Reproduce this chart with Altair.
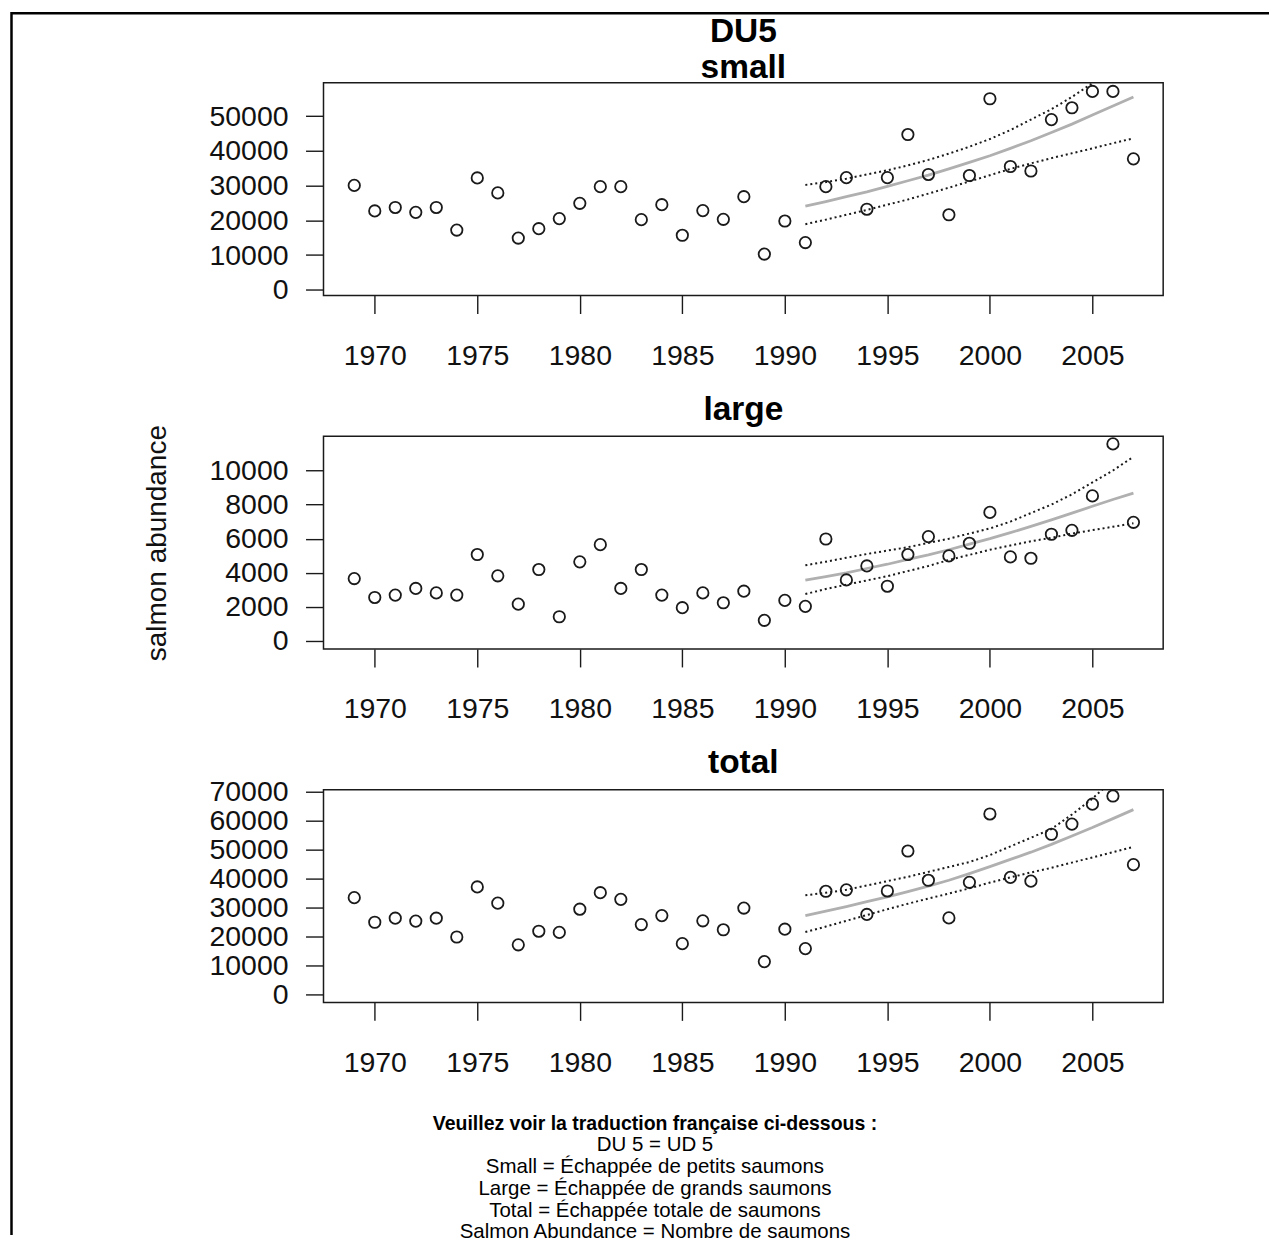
import altair as alt
import pandas as pd

# ---------------- data ----------------
years = list(range(1969, 2008))
small = [30060, 22700, 23700, 22300, 23700, 17200, 32200, 27900, 14900, 17600,
         20500, 24900, 29700, 29700, 20200, 24500, 15700, 22800, 20300, 26800,
         10300, 19800, 13600, 29700, 32300, 23200, 32300, 44700, 33200, 21600,
         32900, 55000, 35500, 34200, 49000, 52400, 57100, 57100, 37700]
large = [3660, 2550, 2690, 3080, 2820, 2690, 5070, 3820, 2160, 4190,
         1420, 4640, 5650, 3080, 4190, 2690, 1950, 2820, 2240, 2920,
         1210, 2380, 2030, 5980, 3580, 4400, 3210, 5070, 6120, 4990,
         5730, 7540, 4930, 4850, 6260, 6490, 8510, 11560, 6960]
total = [33300, 24800, 26200, 25200, 26200, 19700, 37000, 31400, 17000, 21700,
         21300, 29300, 35000, 32700, 24000, 27100, 17400, 25300, 22200, 29700,
         11200, 22400, 15700, 35500, 36000, 27500, 35600, 49400, 39300, 26300,
         38600, 62200, 40300, 39000, 55200, 58700, 65600, 68400, 44700]

fit_years = list(range(1991, 2008))
small_fit = [24100, 25400, 26800, 28200, 29800, 31400, 33000, 34800, 36700,
             38600, 40700, 42900, 45300, 47700, 50300, 52900, 55500]
small_hi = [30200, 31000, 32000, 33200, 34400, 35800, 37400, 39200, 41200,
            43400, 46000, 49000, 52000, 55500, 59500, 63500, 68000]
small_lo = [18900, 20200, 21600, 23000, 24500, 26000, 27700, 29400, 31200,
            33000, 34800, 36400, 37900, 39300, 40700, 42200, 43600]

large_fit = [3570, 3780, 4000, 4250, 4500, 4780, 5050, 5350, 5680,
             6000, 6350, 6720, 7100, 7500, 7900, 8300, 8670]
large_hi = [4440, 4650, 4880, 5100, 5300, 5500, 5750, 6000, 6300,
            6600, 7000, 7500, 8000, 8600, 9300, 10000, 10800]
large_lo = [2750, 3050, 3300, 3550, 3800, 4100, 4400, 4750, 5050,
            5350, 5600, 5850, 6050, 6300, 6500, 6700, 6900]

total_fit = [27100, 28600, 30200, 31900, 33600, 35400, 37300, 39300, 41600,
             44000, 46500, 49000, 51700, 54600, 57500, 60600, 63700]
total_hi = [34100, 35000, 36000, 37500, 39000, 40500, 42200, 43900, 45600,
            48000, 51000, 54000, 57000, 62000, 67500, 74000, 81000]
total_lo = [21400, 23300, 25300, 27300, 29300, 31200, 33000, 34700, 36500,
            38500, 40300, 42000, 43600, 45400, 47200, 49000, 50800]

year_ticks = [1970, 1975, 1980, 1985, 1990, 1995, 2000, 2005]
small_ticks = [0, 10000, 20000, 30000, 40000, 50000]
large_ticks = [0, 2000, 4000, 6000, 8000, 10000]
total_ticks = [0, 10000, 20000, 30000, 40000, 50000, 60000, 70000]

footer_lines = [
    "Veuillez voir la traduction française ci-dessous :",
    "DU 5 = UD 5",
    "Small = Échappée de petits saumons",
    "Large = Échappée de grands saumons",
    "Total = Échappée totale de saumons",
    "Salmon Abundance = Nombre de saumons",
]

# ---------------- styling ----------------
FONT = "Liberation Sans"
W, H = 841, 213
XDOM = [1967.5, 2008.45]


def panel(values, fit, lo, hi, ydomain, yticks, title, ytitle):
    obs = pd.DataFrame({"year": years, "v": values})
    fdf = pd.DataFrame({"year": fit_years, "fit": fit, "lo": lo, "hi": hi})
    xenc = alt.X("year:Q",
                 scale=alt.Scale(domain=XDOM, nice=False, zero=False),
                 axis=alt.Axis(values=year_ticks, format="d", title=None))
    yscale = alt.Scale(domain=ydomain, nice=False, zero=False)
    yaxis = alt.Axis(values=yticks, format="d", title=ytitle)

    pts = alt.Chart(obs).mark_point(
        shape="circle", filled=False, size=130, stroke="#1a1a1a",
        strokeWidth=1.8, opacity=1
    ).encode(x=xenc, y=alt.Y("v:Q", scale=yscale, axis=yaxis))

    base = alt.Chart(fdf).encode(x=xenc)
    fitl = base.mark_line(color="#b0b0b0", strokeWidth=2.8, clip=True).encode(
        y=alt.Y("fit:Q", scale=yscale, axis=yaxis))
    hil = base.mark_line(color="#1a1a1a", strokeWidth=2, strokeDash=[2, 3],
                         clip=True).encode(
        y=alt.Y("hi:Q", scale=yscale, axis=yaxis))
    lol = base.mark_line(color="#1a1a1a", strokeWidth=2, strokeDash=[2, 3],
                         clip=True).encode(
        y=alt.Y("lo:Q", scale=yscale, axis=yaxis))

    return alt.layer(fitl, hil, lol, pts).properties(
        width=W, height=H,
        title=alt.TitleParams(text=title, fontSize=33.5, fontWeight="bold",
                              font=FONT, color="black", anchor="middle",
                              frame="group", offset=-3, lineHeight=35.5),
    )


p1 = panel(small, small_fit, small_lo, small_hi, [-1640, 59570], small_ticks,
           ["DU5", "small"], "")
p2 = panel(large, large_fit, large_lo, large_hi, [-470, 12005], large_ticks,
           "large", "salmon abundance")
p3 = panel(total, total_fit, total_lo, total_hi, [-2890, 70570], total_ticks,
           "total", "")

# footer text + figure frame
one = pd.DataFrame({"a": [0]})
footer_layers = []
ys = [-19.3, 1.5, 24.0, 45.8, 67.6, 89.4]
for i, (line, yv) in enumerate(zip(footer_lines, ys)):
    footer_layers.append(
        alt.Chart(pd.DataFrame({"t": [line]})).mark_text(
            fontSize=19.5 if i == 0 else 20.5, font=FONT, color="black",
            align="center", baseline="middle",
            fontWeight="bold" if i == 0 else "normal"
        ).encode(text="t:N", x=alt.value(332), y=alt.value(yv))
    )
frame_top = alt.Chart(one).mark_rule(color="black", strokeWidth=2.5).encode(
    x=alt.value(-313), x2=alt.value(947), y=alt.value(-1131.8))
frame_left = alt.Chart(one).mark_rule(color="black", strokeWidth=2.5).encode(
    x=alt.value(-312.5), y=alt.value(-1133), y2=alt.value(92))
footer = alt.layer(*footer_layers, frame_top, frame_left).properties(
    width=W, height=10, view=alt.ViewBackground(strokeOpacity=0))

chart = alt.vconcat(p1, p2, p3, footer, spacing=141, bounds="flush").properties(
    padding={"left": 1, "top": 1, "right": 0, "bottom": 0}
).configure(font=FONT).configure_view(
    stroke="#1a1a1a", strokeWidth=1.5
).configure_axis(
    domain=False, grid=False, tickColor="#1a1a1a", tickWidth=1.4, tickSize=18,
    labelFontSize=28.5, labelColor="#111111", labelFont=FONT,
    titleFont=FONT, titleFontSize=28, titleFontWeight="normal",
    titleColor="#111111", labelOverlap=False, labelFlush=False
).configure_axisY(labelPadding=17.5, titlePadding=37).configure_axisX(
    labelPadding=28)

chart.save("out.html", embed_options={"renderer": "svg", "actions": False})
